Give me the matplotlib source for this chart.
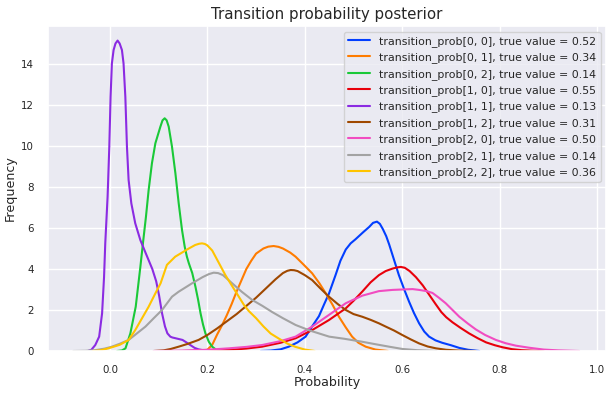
import matplotlib
matplotlib.use("Agg")
import matplotlib.pyplot as plt
import seaborn as sns

sns.set_theme(style="darkgrid")
plt.rcParams['font.family'] = ['DejaVu Sans']

title = "Transition probability posterior"
xlabel = "Probability"
ylabel = "Frequency"

labels = [
    "transition_prob[0, 0], true value = 0.52",
    "transition_prob[0, 1], true value = 0.34",
    "transition_prob[0, 2], true value = 0.14",
    "transition_prob[1, 0], true value = 0.55",
    "transition_prob[1, 1], true value = 0.13",
    "transition_prob[1, 2], true value = 0.31",
    "transition_prob[2, 0], true value = 0.50",
    "transition_prob[2, 1], true value = 0.14",
    "transition_prob[2, 2], true value = 0.36",
]

# density curves (x = probability, y = density)
x00 = [0.31, 0.33, 0.35, 0.367, 0.385, 0.4016, 0.415, 0.429, 0.44, 0.4495, 0.457, 0.463, 0.473, 0.484,
       0.494, 0.504, 0.52, 0.532, 0.54, 0.548, 0.554, 0.56, 0.567, 0.573, 0.583, 0.593, 0.604, 0.614,
       0.624, 0.6345, 0.645, 0.655, 0.668, 0.682, 0.7, 0.717, 0.735, 0.758]
y00 = [0.0, 0.02, 0.08, 0.21, 0.42, 0.7, 1.2, 1.7, 2.3, 2.8, 3.3, 3.7, 4.4, 4.95,
       5.25, 5.45, 5.8, 6.05, 6.25, 6.31, 6.2, 5.95, 5.6, 5.2, 4.45, 3.7, 3.0, 2.4,
       1.85, 1.35, 0.95, 0.7, 0.52, 0.4, 0.28, 0.15, 0.06, 0.0]

x01 = [0.18, 0.2, 0.21, 0.22, 0.23, 0.24, 0.25, 0.26, 0.27, 0.28, 0.29, 0.3, 0.315, 0.325, 0.336,
       0.346, 0.355, 0.37, 0.381, 0.398, 0.415, 0.43, 0.443, 0.457, 0.47, 0.484, 0.497, 0.51, 0.525,
       0.545, 0.57]
y01 = [0.0, 0.06, 0.3, 0.8, 1.25, 1.75, 2.3, 2.9, 3.45, 4.0, 4.4, 4.75, 5.0, 5.09, 5.12,
       5.08, 5.0, 4.8, 4.6, 4.2, 3.79, 3.3, 2.81, 2.25, 1.67, 1.15, 0.7, 0.4, 0.21,
       0.07, 0.0]

x02 = [0.015, 0.025, 0.032, 0.042, 0.053, 0.0625, 0.0678, 0.074, 0.0795, 0.0863, 0.0933, 0.1036,
       0.108, 0.1124, 0.1165, 0.1207, 0.1274, 0.1344, 0.1412, 0.148, 0.1535, 0.158, 0.162, 0.169,
       0.1755, 0.181, 0.186, 0.191, 0.196, 0.203, 0.21, 0.218, 0.225]
y02 = [0.0, 0.03, 0.13, 0.86, 2.16, 4.1, 5.25, 6.55, 7.85, 9.16, 10.13, 10.94,
       11.25, 11.35, 11.25, 10.94, 9.97, 8.67, 7.2, 5.9, 5.09, 4.6, 4.28, 3.8,
       3.14, 2.5, 1.84, 1.3, 0.86, 0.45, 0.21, 0.06, 0.0]

x10 = [0.15, 0.2, 0.244, 0.28, 0.312, 0.35, 0.381, 0.415, 0.4495, 0.484, 0.5, 0.518, 0.535, 0.552,
       0.566, 0.58, 0.59, 0.597, 0.605, 0.615, 0.628, 0.642, 0.655, 0.668, 0.68, 0.69, 0.703, 0.72,
       0.737, 0.755, 0.772, 0.79, 0.806, 0.825, 0.845, 0.87, 0.89]
y10 = [0.0, 0.02, 0.05, 0.12, 0.21, 0.4, 0.62, 1.02, 1.51, 2.08, 2.45, 2.9, 3.35, 3.7,
       3.9, 4.02, 4.08, 4.1, 4.06, 3.9, 3.6, 3.2, 2.75, 2.3, 1.9, 1.65, 1.4, 1.12,
       0.86, 0.62, 0.42, 0.28, 0.18, 0.09, 0.04, 0.01, 0.0]

x11 = [-0.045, -0.038, -0.03, -0.022, -0.016, -0.012, -0.0095, -0.0047, -0.0012, 0.0014, 0.0041,
       0.0076, 0.0115, 0.0158, 0.02, 0.0247, 0.028, 0.0317, 0.035, 0.0384, 0.044, 0.052, 0.0625,
       0.073, 0.087, 0.095, 0.101, 0.107, 0.113, 0.118, 0.124, 0.128, 0.135, 0.149, 0.157, 0.165,
       0.174, 0.182, 0.2]
y11 = [0.0, 0.06, 0.29, 0.7, 1.84, 3.6, 5.25, 7.53, 9.97, 12.4, 14.03,
       14.68, 15.0, 15.14, 15.0, 14.68, 14.03, 12.4, 9.97, 8.34, 7.2, 6.23, 5.41,
       4.8, 4.0, 3.4, 2.7, 1.84, 1.2, 0.86, 0.7, 0.66, 0.62, 0.54, 0.42, 0.29,
       0.15, 0.08, 0.0]

x12 = [0.09, 0.11, 0.125, 0.141, 0.16, 0.182, 0.2, 0.22, 0.24, 0.26, 0.28, 0.3, 0.32, 0.34, 0.355,
       0.364, 0.371, 0.378, 0.385, 0.4, 0.415, 0.432, 0.4495, 0.467, 0.484, 0.5, 0.518, 0.535, 0.552,
       0.566, 0.583, 0.6, 0.617, 0.6345, 0.652, 0.669, 0.69, 0.715, 0.75]
y12 = [0.0, 0.03, 0.1, 0.21, 0.35, 0.54, 0.78, 1.1, 1.45, 1.8, 2.2, 2.6, 3.05, 3.5, 3.8,
       3.91, 3.95, 3.94, 3.9, 3.7, 3.46, 3.05, 2.65, 2.3, 2.0, 1.8, 1.67, 1.52, 1.35,
       1.19, 1.0, 0.78, 0.57, 0.37, 0.22, 0.13, 0.06, 0.02, 0.0]

x20 = [0.09, 0.15, 0.2, 0.244, 0.28, 0.312, 0.35, 0.381, 0.415, 0.4495, 0.484, 0.518, 0.552, 0.58,
       0.6, 0.621, 0.6345, 0.65, 0.662, 0.675, 0.689, 0.703, 0.717, 0.735, 0.751, 0.77, 0.792, 0.812,
       0.833, 0.86, 0.89, 0.92, 0.963]
y20 = [0.0, 0.02, 0.06, 0.13, 0.2, 0.29, 0.48, 0.7, 1.19, 1.76, 2.33, 2.7, 2.92, 2.98,
       3.0, 3.02, 2.98, 2.92, 2.83, 2.6, 2.33, 2.0, 1.67, 1.33, 1.05, 0.78, 0.54, 0.38,
       0.26, 0.16, 0.07, 0.03, 0.0]

x21 = [-0.075, -0.05, -0.03, -0.01, 0.004, 0.02, 0.0385, 0.055, 0.073, 0.09, 0.107, 0.1275, 0.141,
       0.1685, 0.19, 0.203, 0.213, 0.222, 0.232, 0.251, 0.27, 0.292, 0.313, 0.333, 0.355, 0.381, 0.41,
       0.45, 0.48, 0.518, 0.545, 0.573, 0.6, 0.63, 0.67]
y21 = [0.0, 0.01, 0.04, 0.12, 0.21, 0.35, 0.54, 0.85, 1.19, 1.6, 2.0, 2.65, 2.89,
       3.3, 3.6, 3.75, 3.82, 3.8, 3.7, 3.3, 2.9, 2.49, 2.2, 1.9, 1.6, 1.27, 1.0,
       0.7, 0.6, 0.45, 0.33, 0.21, 0.1, 0.04, 0.0]

x22 = [-0.035, -0.02, -0.003, 0.02, 0.0385, 0.052, 0.066, 0.0795, 0.092, 0.104, 0.117, 0.134, 0.148,
       0.162, 0.175, 0.183, 0.189, 0.195, 0.2, 0.21, 0.2235, 0.237, 0.25, 0.2645, 0.275, 0.285, 0.3,
       0.315, 0.33, 0.347, 0.365, 0.381, 0.4, 0.42]
y22 = [0.0, 0.03, 0.13, 0.3, 0.54, 1.02, 1.6, 2.16, 2.75, 3.3, 4.2, 4.6, 4.8,
       5.0, 5.17, 5.23, 5.25, 5.22, 5.15, 4.9, 4.3, 3.7, 3.2, 2.65, 2.25, 1.95, 1.6,
       1.2, 0.85, 0.6, 0.35, 0.2, 0.07, 0.0]

xs = [x00, x01, x02, x10, x11, x12, x20, x21, x22]
ys = [y00, y01, y02, y10, y11, y12, y20, y21, y22]

colors = sns.color_palette("bright", 9)

fig = plt.figure(figsize=(6.13, 3.95), dpi=100)
ax = fig.add_axes([0.0783, 0.1114, 0.9103, 0.8227])
for x, y, c, lab in zip(xs, ys, colors, labels):
    ax.plot(x, y, color=c, lw=1.5, label=lab, solid_joinstyle="round")

ax.set_xlim(-0.127, 1.018)
ax.set_ylim(0, 15.85)
ax.set_xticks([0.0, 0.2, 0.4, 0.6, 0.8, 1.0])
ax.set_yticks([0, 2, 4, 6, 8, 10, 12, 14])
ax.tick_params(labelsize=7.4, pad=4)
ax.set_title(title, fontsize=10.8, pad=5)
ax.set_xlabel(xlabel, fontsize=9.1, labelpad=1)
ax.set_ylabel(ylabel, fontsize=9.1, labelpad=3)
ax.legend(loc="upper right", fontsize=7.9, labelspacing=0.5, handlelength=2.0,
          borderaxespad=0.5)

fig.savefig("out.png", dpi=100)
